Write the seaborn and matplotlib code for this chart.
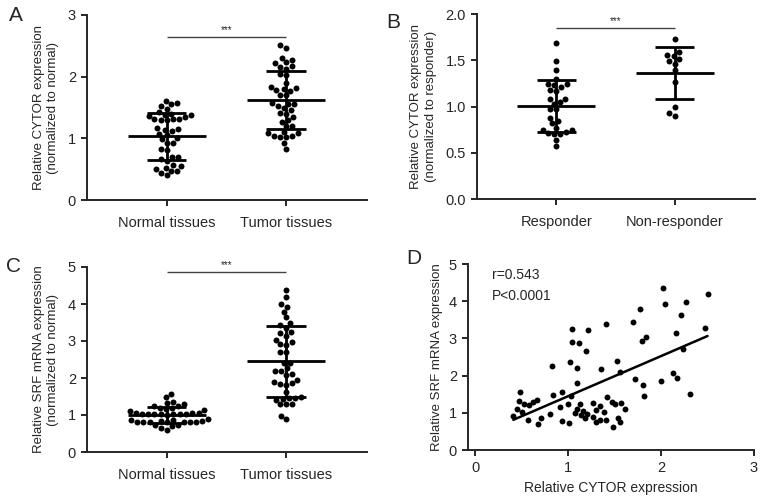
import numpy as np
import pandas as pd
import matplotlib
matplotlib.use("Agg")
import matplotlib.pyplot as plt
import seaborn as sns

# ---- data ----
# A: CYTOR in tissues
a_normal = [1.61, 1.55, 1.52, 1.58, 1.48, 1.42, 1.38, 1.36, 1.35, 1.38, 1.40,
            1.32, 1.31, 1.30, 1.29, 1.31, 1.16, 1.12, 1.15, 1.14, 1.05, 1.07,
            0.99, 1.00, 0.92, 0.92, 0.83, 0.81, 0.69, 0.66, 0.69, 0.64, 0.56,
            0.55, 0.50, 0.47, 0.40, 0.44, 0.47, 0.52]
a_tumor = [2.47, 2.51, 2.31, 2.27, 2.22, 2.16, 2.13, 2.17, 2.24, 2.04, 2.03,
           1.90, 1.81, 1.78, 1.84, 1.77, 1.80, 1.70, 1.70, 1.56, 1.56, 1.52,
           1.57, 1.46, 1.49, 1.40, 1.35, 1.41, 1.27, 1.20, 1.20, 1.30, 1.09,
           1.04, 1.02, 1.02, 1.03, 1.08, 1.11, 0.92, 0.83]
# B: CYTOR in responders / non-responders
b_resp = [1.69, 1.49, 1.40, 1.30, 1.24, 1.23, 1.18, 1.17, 1.21, 1.24, 1.05,
          1.08, 1.08, 1.03, 0.97, 0.97, 0.88, 0.84, 0.82, 0.75, 0.72, 0.70,
          0.70, 0.71, 0.75, 0.77, 0.64, 0.57]
b_nonresp = [1.73, 1.59, 1.55, 1.49, 1.46, 1.51, 1.56, 1.39, 1.26, 1.00,
             0.93, 0.90]
# C: SRF in tissues
c_normal = [1.48, 1.57, 1.35, 1.32, 1.25, 1.23, 1.18, 1.14, 1.11, 1.16, 1.20,
            1.29, 1.02, 1.00, 1.05, 1.06, 1.04, 1.03, 1.02, 1.03, 1.05, 1.04,
            1.03, 0.82, 0.80, 0.87, 0.84, 0.82, 0.80, 0.86, 0.89, 0.84, 0.80,
            0.80, 0.82, 0.73, 0.69, 0.60, 0.66, 0.73]
c_tumor = [4.38, 4.20, 3.99, 3.93, 3.79, 3.64, 3.48, 3.36, 3.43, 3.25, 3.14,
           3.21, 3.03, 2.96, 2.91, 2.89, 2.71, 2.71, 2.40, 2.40, 2.26, 2.19,
           2.10, 2.08, 2.19, 1.90, 1.83, 1.81, 1.87, 1.95, 1.61, 1.45, 1.41,
           1.45, 1.50, 1.43, 1.29, 1.29, 1.31, 0.89, 0.98]
# D: correlation CYTOR vs SRF
d_cytor = [2.02, 2.50, 2.04, 2.27, 1.77, 2.21, 1.70, 1.41, 1.04, 1.21, 2.47,
           2.16, 1.84, 1.79, 1.04, 1.12, 1.19, 2.24, 0.83, 1.02, 1.10, 1.35,
           1.53, 1.56, 2.13, 2.17, 1.72, 2.00, 1.09, 1.81, 2.31, 1.82, 0.84,
           0.93, 1.03, 0.48, 1.42,
           0.47, 0.52, 0.58, 0.62, 0.66, 0.45, 0.50, 0.41, 0.57, 0.71, 0.68,
           0.80, 0.91, 0.93, 1.00, 1.01, 1.07, 1.09, 1.13, 1.14, 1.18, 1.16,
           1.27, 1.27, 1.30, 1.30, 1.34, 1.34, 1.39, 1.41, 1.47, 1.50, 1.57,
           1.61, 1.54, 1.56, 1.48, 1.20]
d_srf = [4.36, 4.19, 3.93, 3.98, 3.78, 3.63, 3.45, 3.38, 3.26, 3.23, 3.29,
         3.14, 3.04, 2.94, 2.90, 2.87, 2.65, 2.71, 2.27, 2.36, 2.20, 2.19,
         2.40, 2.09, 2.06, 1.93, 1.91, 1.86, 1.81, 1.75, 1.50, 1.45, 1.48,
         1.55, 1.46, 1.55, 1.43,
         1.33, 1.25, 1.21, 1.30, 1.34, 1.09, 1.03, 0.91, 0.81, 0.85, 0.70,
         0.97, 1.15, 0.79, 1.23, 0.72, 1.00, 1.09, 1.23, 0.94, 0.85, 1.05,
         1.27, 0.90, 1.08, 0.76, 0.81, 1.17, 1.02, 0.81, 1.30, 1.25, 1.27,
         1.09, 0.85, 0.76, 0.61, 0.97]

tissue_labels = ["Normal tissues", "Tumor tissues"]
response_labels = ["Responder", "Non-responder"]

sns.set_style("ticks")
plt.rcParams["font.family"] = ["Liberation Sans", "DejaVu Sans"]
plt.rcParams["axes.linewidth"] = 1.4
plt.rcParams["xtick.major.width"] = 1.4
plt.rcParams["ytick.major.width"] = 1.4
plt.rcParams["xtick.major.size"] = 4.5
plt.rcParams["ytick.major.size"] = 4.5
plt.rcParams["xtick.labelsize"] = 10.5
plt.rcParams["ytick.labelsize"] = 10.5
plt.rcParams["axes.labelsize"] = 9.5

W, H = 765, 497
fig = plt.figure(figsize=(W / 100, H / 100), dpi=100)


def px_axes(left, right, top, bottom):
    return fig.add_axes([left / W, 1 - bottom / H, (right - left) / W, (bottom - top) / H])


def dot_panel(ax, groups, names, ylim, yticks, ylabel, sig_y, fmt="{:g}"):
    df = pd.DataFrame({
        "group": np.repeat(names, [len(g) for g in groups]),
        "value": np.concatenate(groups),
    })
    sns.swarmplot(data=df, x="group", y="value", color="black", size=4.3, ax=ax)
    for i, g in enumerate(groups):
        m, sd = np.mean(g), np.std(g, ddof=1)
        ax.hlines(m, i - 0.33, i + 0.33, color="black", lw=2, zorder=3)
        ax.hlines([m - sd, m + sd], i - 0.165, i + 0.165, color="black", lw=2, zorder=3)
        ax.vlines(i, m - sd, m + sd, color="black", lw=2, zorder=3)
    ax.hlines(sig_y, 0, 1, color="#444444", lw=1)
    ax.text(0.5, sig_y + (ylim[1] - ylim[0]) * 0.01, "***", ha="center", va="bottom", fontsize=7)
    ax.set_xlim(-0.67, 1.68)
    ax.set_ylim(*ylim)
    ax.set_yticks(yticks)
    ax.set_yticklabels([fmt.format(t) for t in yticks])
    ax.set_xlabel("")
    ax.set_ylabel(ylabel, linespacing=1.3, labelpad=6)
    ax.tick_params(axis="x", pad=7)
    sns.despine(ax=ax)


axA = px_axes(87, 367, 15, 200)
dot_panel(axA, [a_normal, a_tumor], tissue_labels, (0, 3), [0, 1, 2, 3],
          "Relative CYTOR expression\n(normalized to normal)", 2.65)

axB = px_axes(477, 755, 14, 199)
dot_panel(axB, [b_resp, b_nonresp], response_labels, (0, 2), [0, 0.5, 1.0, 1.5, 2.0],
          "Relative CYTOR expression\n(normalized to responder)", 1.845, fmt="{:.1f}")

axC = px_axes(87, 367, 267, 452)
dot_panel(axC, [c_normal, c_tumor], tissue_labels, (0, 5), [0, 1, 2, 3, 4, 5],
          "Relative SRF mRNA expression\n(normalized to normal)", 4.87)

axD = px_axes(468, 754, 264, 450)
sns.regplot(x=np.array(d_cytor), y=np.array(d_srf), ci=None, ax=axD,
            scatter_kws={"color": "black", "s": 18, "linewidths": 0, "alpha": 1},
            line_kws={"color": "black", "lw": 1.8})
axD.set_xlim(-0.078, 3)
axD.set_ylim(0, 5)
axD.set_xticks([0, 1, 2, 3])
axD.set_yticks([0, 1, 2, 3, 4, 5])
axD.set_xlabel("Relative CYTOR expression", fontsize=10)
axD.set_ylabel("Relative SRF mRNA expression", fontsize=9.5)
axD.text(0.18, 4.9, "r=0.543", ha="left", va="top", fontsize=10)
axD.text(0.18, 4.32, "P<0.0001", ha="left", va="top", fontsize=10)
sns.despine(ax=axD)

for lab, x, y in [("A", 9, 6), ("B", 386, 13), ("C", 6, 257), ("D", 406, 249)]:
    fig.text(x / W, 1 - y / H, lab, ha="left", va="top", fontsize=15)

fig.savefig("out.png", dpi=100)
